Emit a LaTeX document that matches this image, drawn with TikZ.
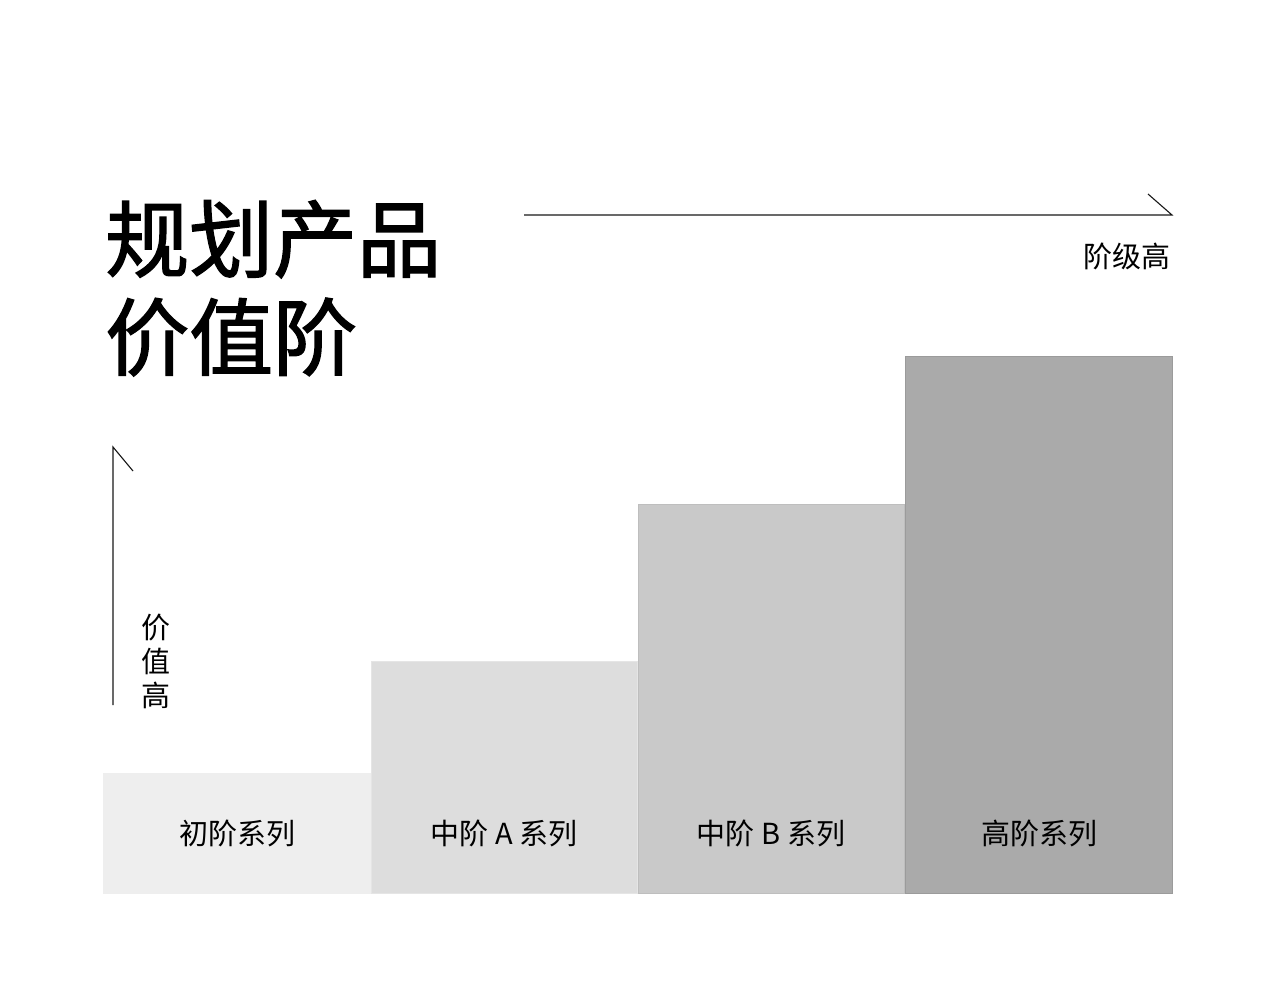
\documentclass[tikz,border=0pt]{standalone}
\usepackage{fontspec}
\setmainfont{Noto Sans CJK SC}
\newfontfamily\cjk{Noto Sans CJK SC}
\newfontfamily\cjkt[FakeBold=1.6]{Noto Sans CJK SC}
\begin{document}
\begin{tikzpicture}[x=1pt,y=-1pt,
  bar/.style={rectangle, inner sep=0pt, outer sep=0pt, line width=0.8pt},
  lbl/.style={inner sep=0pt, font=\cjk\fontsize{29}{34}\selectfont, text=black},
  axis/.style={line width=1.1pt, draw=black!90}]
\useasboundingbox[fill=white] (0,0) rectangle (1280,1007);
% bars
\node[bar, fill={rgb,255:red,238;green,238;blue,238}, draw={rgb,255:red,238;green,238;blue,238}, minimum width=267pt, minimum height=120pt] (b1) at (236.5,833) {};
\node[bar, fill={rgb,255:red,221;green,221;blue,221}, draw={rgb,255:red,229;green,229;blue,229}, minimum width=266pt, minimum height=232pt] (b2) at (504,777) {};
\node[bar, fill={rgb,255:red,201;green,201;blue,201}, draw={rgb,255:red,190;green,190;blue,190}, minimum width=266pt, minimum height=389pt] (b3) at (771,698.5) {};
\node[bar, fill={rgb,255:red,170;green,170;blue,170}, draw={rgb,255:red,155;green,155;blue,155}, minimum width=267pt, minimum height=537pt] (b4) at (1038.5,624.5) {};
% bar labels
\node[lbl] (l1) at (237.5,833) {初阶系列};
\node[lbl] (l2) at (504,833) {中阶 A 系列};
\node[lbl] (l3) at (771,833) {中阶 B 系列};
\node[lbl] (l4) at (1039,833) {高阶系列};
% title
\node[inner sep=0pt, anchor=north west, align=left, font=\cjkt\fontsize{84}{98}\selectfont] (title) at (105,200) {规划产品\\价值阶};
% horizontal axis
\coordinate (hs) at (524,215);
\coordinate (he) at (1172,215);
\coordinate (hb) at (1148,194);
\draw[axis] (hs) -- (he) -- (hb);
\node[lbl] (hl) at (1127,256) {阶级高};
% vertical axis
\coordinate (vs) at (113,705);
\coordinate (ve) at (113,447);
\coordinate (vb) at (133,471);
\draw[axis] (vs) -- (ve) -- (vb);
\node[lbl, align=center] (vl) at (155.5,661) {价\\值\\高};
\end{tikzpicture}
\end{document}
